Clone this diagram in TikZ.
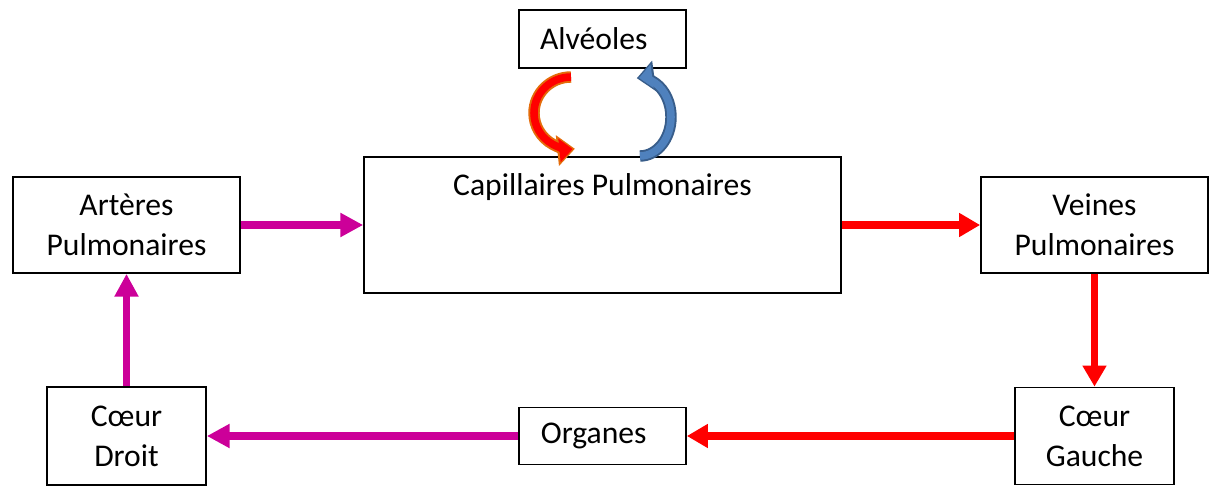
\documentclass[tikz,border=0pt]{standalone}
\usepackage{fontspec}
\setmainfont{Carlito}
\usetikzlibrary{arrows.meta}
\definecolor{flowmag}{RGB}{204,0,153}
\definecolor{flowred}{RGB}{255,0,0}
\definecolor{otwoedge}{RGB}{228,108,10}
\definecolor{cotwofill}{RGB}{79,129,189}
\definecolor{cotwoedge}{RGB}{56,93,138}

\begin{document}
\begin{tikzpicture}[
            x=0.02cm, y=-0.02cm,
            box/.style={draw, line width=1pt, align=center, inner sep=0pt, font=\fontsize{18}{22.7}\selectfont},
            magflow/.style={flowmag, line width=4.5pt, -{Triangle[length=13pt, width=13pt]}},
            redflow/.style={flowred, line width=4.5pt, -{Triangle[length=12pt, width=13pt]}},
            swapedge/.style={line width=6.5pt, -{Triangle[length=10pt, width=17pt]}},
            swapfill/.style={line width=4.3pt, shorten >=1.3pt, -{Triangle[length=7.5pt, width=13pt]}}]

        \useasboundingbox (0,0) rectangle (1210,486);

        % boxes
        \node[box, minimum width=3.34cm, minimum height=1.16cm] (alv) at (602.5,39) {Alvéoles\hspace{10pt}};
        \node[box, minimum width=9.54cm, minimum height=2.72cm] (cap) at (602.5,225) {};
        \node[font=\fontsize{18}{22.7}\selectfont, anchor=base, inner sep=0pt] (captext) at (602.5,196) {Capillaires Pulmonaires};
        \node[box, minimum width=4.54cm, minimum height=1.92cm] (art) at (126.5,225) {Artères\\Pulmonaires};
        \node[box, minimum width=4.54cm, minimum height=1.92cm] (vei) at (1094.5,225) {Veines\\Pulmonaires};
        \node[box, minimum width=3.18cm, minimum height=1.96cm] (cd) at (126.5,436) {Cœur\\Droit};
        \node[box, minimum width=3.34cm, minimum height=1.14cm] (org) at (602.5,436) {Organes\hspace{10pt}};
        \node[box, minimum width=3.18cm, minimum height=1.94cm] (cg) at (1094.5,436) {Cœur\\Gauche};

        % circulation
        \draw[magflow] (art) -- (cap);
        \draw[redflow] (cap) -- (vei);
        \draw[redflow] (vei) -- (cg);
        \draw[redflow] (cg) -- (org);
        \draw[magflow] (org) -- (cd);
        \draw[magflow] (cd) -- (art);

        % gas exchange
        \draw[swapedge, otwoedge] (571,77) arc[start angle=270, end angle=84, x radius=37, y radius=36];
        \draw[swapfill, flowred] (571,77) arc[start angle=270, end angle=84, x radius=37, y radius=36];
        \draw[swapedge, cotwoedge] (640,156) arc[start angle=90, end angle=-96, x radius=31, y radius=39];
        \draw[swapfill, cotwofill] (640,156) arc[start angle=90, end angle=-96, x radius=31, y radius=39];
    \end{tikzpicture}
\end{document}
